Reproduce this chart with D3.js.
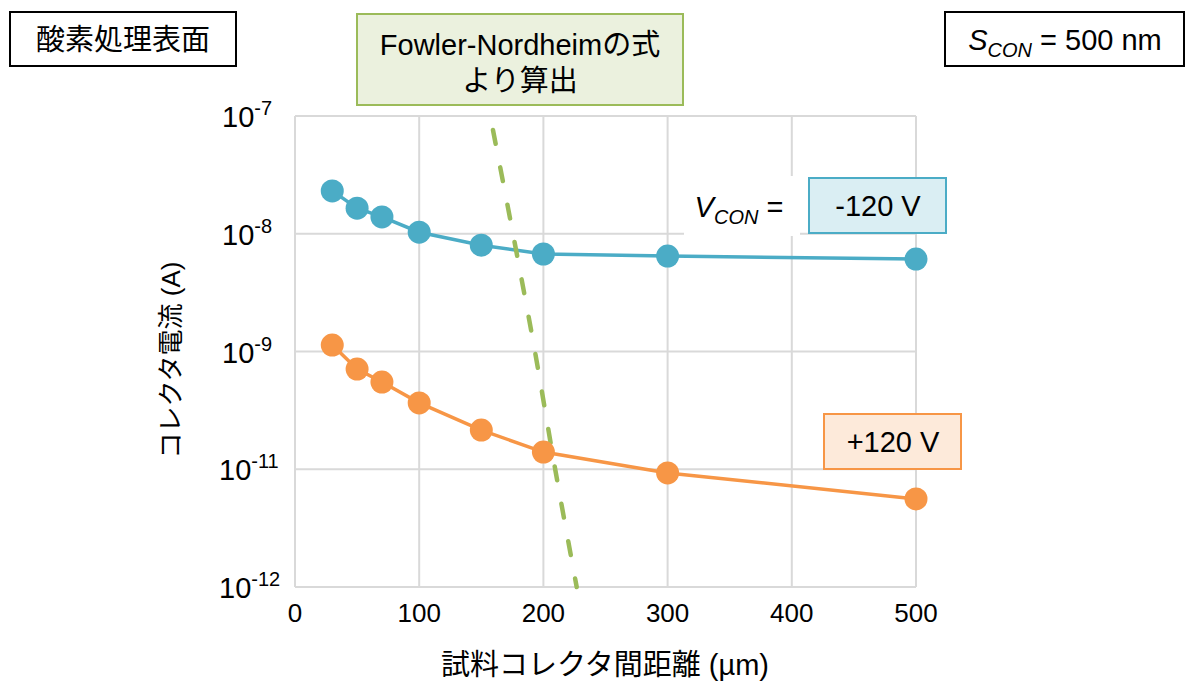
<!DOCTYPE html>
<html>
<head>
<meta charset="utf-8">
<script src="https://cdn.jsdelivr.net/npm/d3@7"></script>
<style>
  html, body { margin: 0; padding: 0; background: #fff; }
  svg { display: block; font-family: "Liberation Sans", Arial, "Noto Sans CJK JP", sans-serif; }
</style>
</head>
<body>
<svg id="chart" width="1186" height="681"></svg>
<script>
// Collector current vs. sample–collector distance (oxygen-treated surface)
const distances = [30, 50, 70, 100, 150, 200, 300, 500];               // µm
const currentMinus120 = [2.31e-8, 1.65e-8, 1.39e-8, 1.03e-8, 8.0e-9, 6.73e-9, 6.47e-9, 6.1e-9]; // A, V_CON = -120 V
const currentPlus120  = [1.135e-9, 7.1e-10, 5.5e-10, 3.66e-10, 2.15e-10, 1.40e-10, 9.3e-11, 5.6e-11]; // A, V_CON = +120 V

// Fowler–Nordheim estimate
const fnDistance = [159.4, 175.5, 193.2, 209.5, 226.8];
const fnCurrent  = [7.6e-8, 1e-8, 1e-9, 1e-10, 1e-11];

const xTickValues = [0, 100, 200, 300, 400, 500];
const yTickValues = [1e-7, 1e-8, 1e-9, 1e-10, 1e-11];
const yTickExponents = ["-7", "-8", "-9", "-11", "-12"];

const svg = d3.select("#chart");
const FONT = 26, LABEL_FONT = 29;
const GRID = "#d9d9d9";
const BLUE = "#4bacc6", ORANGE = "#f79646", GREEN = "#9bbb59";

const x = d3.scaleLinear().domain([0, 500]).range([295, 916]);
const y = d3.scaleLog().domain([1e-11, 1e-7]).range([587, 116]);

// grid
const grid = svg.append("g");
grid.selectAll("line.v").data(xTickValues).join("line")
  .attr("x1", d => x(d)).attr("x2", d => x(d))
  .attr("y1", y.range()[1]).attr("y2", y.range()[0])
  .attr("stroke", GRID).attr("stroke-width", 2);
grid.selectAll("line.h").data(yTickValues).join("line")
  .attr("x1", x.range()[0]).attr("x2", x.range()[1])
  .attr("y1", d => y(d)).attr("y2", d => y(d))
  .attr("stroke", GRID).attr("stroke-width", 2);

// x tick labels
svg.append("g").selectAll("text").data(xTickValues).join("text")
  .attr("x", d => x(d)).attr("y", 622)
  .attr("text-anchor", "middle").attr("font-size", FONT).attr("fill", "#000")
  .text(d => d);

// y tick labels (10 with superscript exponent)
const yl = svg.append("g").selectAll("text").data(yTickValues).join("text")
  .attr("x", (d, i) => yTickExponents[i].length > 2 ? 219 : 222)
  .attr("y", (d) => y(d) + 11)
  .attr("text-anchor", "start").attr("font-size", 29).attr("fill", "#000");
yl.append("tspan").text("10");
yl.append("tspan").attr("font-size", 20).attr("dy", -12).text((d, i) => yTickExponents[i]);

// axis titles
svg.append("text").attr("x", 605).attr("y", 675)
  .attr("text-anchor", "middle").attr("font-size", LABEL_FONT)
  .text("試料コレクタ間距離 (µm)");
svg.append("text")
  .attr("transform", "translate(180,360) rotate(-90)")
  .attr("text-anchor", "middle").attr("font-size", FONT)
  .text("コレクタ電流 (A)");

// series lines
const line = d3.line().x(d => x(d[0])).y(d => y(d[1]));
const seriesMinus = distances.map((d, i) => [d, currentMinus120[i]]);
const seriesPlus = distances.map((d, i) => [d, currentPlus120[i]]);
svg.append("path").datum(seriesMinus).attr("d", line)
  .attr("fill", "none").attr("stroke", BLUE).attr("stroke-width", 3.5);
svg.append("path").datum(seriesPlus).attr("d", line)
  .attr("fill", "none").attr("stroke", ORANGE).attr("stroke-width", 3.5);

// Fowler–Nordheim dashed curve
const fnLine = d3.line().x(d => x(d[0])).y(d => y(d[1])).curve(d3.curveMonotoneY);
svg.append("path").datum(fnDistance.map((d, i) => [d, fnCurrent[i]])).attr("d", fnLine)
  .attr("fill", "none").attr("stroke", GREEN).attr("stroke-width", 4.5)
  .attr("stroke-linecap", "round").attr("stroke-dasharray", "14 24");

// markers
svg.append("g").selectAll("circle").data(seriesMinus).join("circle")
  .attr("cx", d => x(d[0])).attr("cy", d => y(d[1])).attr("r", 11.5).attr("fill", BLUE);
svg.append("g").selectAll("circle").data(seriesPlus).join("circle")
  .attr("cx", d => x(d[0])).attr("cy", d => y(d[1])).attr("r", 11.5).attr("fill", ORANGE);

// annotation boxes
function box(x0, y0, w, h, fill, stroke, sw) {
  svg.append("rect").attr("x", x0).attr("y", y0).attr("width", w).attr("height", h)
    .attr("fill", fill).attr("stroke", stroke).attr("stroke-width", sw);
}

box(10, 12, 226, 54, "#fff", "#000", 2);
svg.append("text").attr("x", 123).attr("y", 50).attr("text-anchor", "middle")
  .attr("font-size", LABEL_FONT).text("酸素処理表面");

box(357, 14, 326, 91, "#ebf1de", GREEN, 2);
svg.append("text").attr("x", 520).attr("y", 55).attr("text-anchor", "middle")
  .attr("font-size", LABEL_FONT).text("Fowler-Nordheimの式");
svg.append("text").attr("x", 520).attr("y", 91).attr("text-anchor", "middle")
  .attr("font-size", LABEL_FONT).text("より算出");

box(945, 12, 239, 54, "#fff", "#000", 2);
const st = svg.append("text").attr("x", 1065).attr("y", 50).attr("text-anchor", "middle").attr("font-size", LABEL_FONT);
st.append("tspan").attr("font-style", "italic").text("S");
st.append("tspan").attr("font-style", "italic").attr("font-size", 20).attr("dy", 7).text("CON");
st.append("tspan").attr("dy", -7).text(" = 500 nm");

// V_CON label on white background
svg.append("rect").attr("x", 684).attr("y", 176).attr("width", 116).attr("height", 60).attr("fill", "#fff");
const vt = svg.append("text").attr("x", 739).attr("y", 217).attr("text-anchor", "middle").attr("font-size", LABEL_FONT);
vt.append("tspan").attr("font-style", "italic").text("V");
vt.append("tspan").attr("font-style", "italic").attr("font-size", 20).attr("dy", 7).text("CON");
vt.append("tspan").attr("dy", -7).text(" =");

box(809, 178, 137, 55, "#daeef3", BLUE, 2);
svg.append("text").attr("x", 878).attr("y", 216).attr("text-anchor", "middle")
  .attr("font-size", LABEL_FONT).text("-120 V");

box(824, 414, 137, 55, "#fdeada", ORANGE, 2);
svg.append("text").attr("x", 893).attr("y", 452).attr("text-anchor", "middle")
  .attr("font-size", LABEL_FONT).text("+120 V");
</script>
</body>
</html>
